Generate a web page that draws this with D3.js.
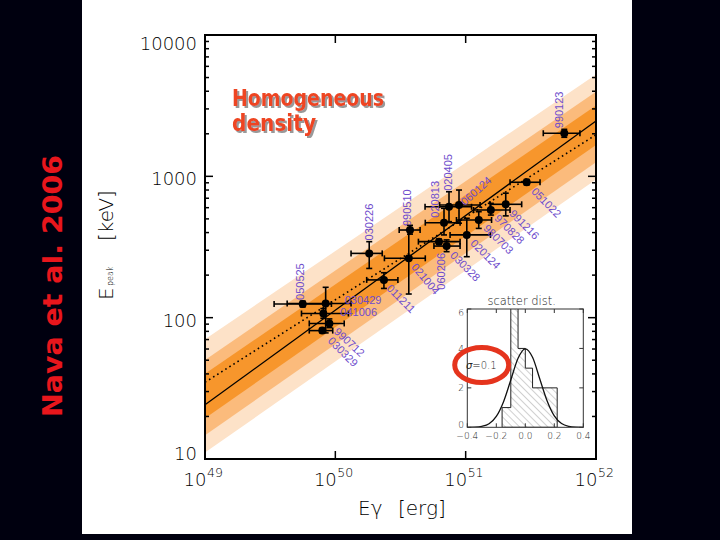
<!DOCTYPE html>
<html><head><meta charset="utf-8">
<script src="https://cdn.jsdelivr.net/npm/d3@7"></script>
<style>html,body{margin:0;padding:0;background:#00000f;}svg{display:block}</style>
</head><body>
<svg id="c" width="720" height="540"></svg>
<script>
// ---------- data ----------
const grbNames  = ["050525","030429","041006","990712","030329","030226","011211","990510","021004","060206","030328","020813","020405","060124","020124","980703","970828","991216","051022","990123"];
const eGamma    = [5.62e49,8.43e49,8.09e49,9.0e49,7.94e49,1.82e50,2.36e50,3.74e50,3.66e50,6.24e50,7.14e50,6.82e50,7.45e50,8.89e50,1.02e51,1.26e51,1.56e51,2.03e51,2.94e51,5.71e51];
const eGammaLo  = [3.39e49,4.27e49,5.5e49,6.31e49,6.31e49,1.32e50,1.74e50,3.09e50,2.38e50,4.34e50,5.71e50,4.9e50,4.88e50,6.31e50,7.59e50,8.5e50,1.15e51,1.54e51,2.19e51,3.94e51];
const eGammaHi  = [9.33e49,1.32e50,1.26e50,1.17e50,9.55e49,2.29e50,3.02e50,4.47e50,4.9e50,9.06e50,9.06e50,9.06e50,1.11e51,1.29e51,1.55e51,1.58e51,2.19e51,2.69e51,3.72e51,7.53e51];
const ePeak     = [125,126,107,91,81,285,185,417,263,345,321,470,609,627,385,491,578,634,908,2018];
const ePeakLo   = [119,78,99,85,78,223,161,390,147,330,293,385,478,466,270,428,532,525,870,1890];
const ePeakHi   = [131,164,116,98,84,345,208,450,417,360,355,594,778,800,505,562,644,760,950,2150];

const yTickValues = [10,100,1000,10000];
const yTickLabels = ["10","100","1000","10000"];
const xTickValues = [1e49,1e50,1e51,1e52];
const xTickExps   = ["49","50","51","52"];

const lineE     = [1e49,1e52];
const fitEp     = [24.2,2466];
const dottedEp  = [34.9,1968];
const band3Lo   = [11.1,951],  band3Hi = [70.3,5248];
const band2Lo   = [14.7,1259], band2Hi = [50.2,3972];
const band1Lo   = [19.4,1663], band1Hi = [40.1,3170];

const histEdges  = [-0.16,-0.10,-0.05,0.00,0.05,0.22];
const histCounts = [1,7,4,3,2];
const gaussX = [-0.40,-0.35,-0.30,-0.25,-0.20,-0.15,-0.10,-0.05,0.00,0.05,0.10,0.15,0.20,0.25,0.30,0.35,0.40];
const gaussY = [0.00,0.01,0.05,0.18,0.55,1.30,2.40,3.50,3.98,3.55,2.45,1.35,0.58,0.19,0.05,0.01,0.00];
const insetXTicks = [-0.4,-0.2,0.0,0.2,0.4];
const insetXTickLabels = ["\u22120.4","\u22120.2","0.0","0.2","0.4"];
const insetYTicks = [0,2,4,6];

// label placement (pixel offsets from the point, rotation)
const labelLayout = {
 "050525":[1,-4,-90],"030429":[19,1,0],"041006":[17,2,0],"990712":[4,9,43],"030329":[5,11,45],
 "030226":[4,-13,-90],"011211":[2,9,45],"990510":[1.5,-4,-90],"021004":[2,9,50],"060206":[6,48,-90],
 "030328":[3,10,45],"020813":[-5,-5,-90],"020405":[3,-16,-90],"060124":[6,1,-42],"020124":[3,9,45],
 "980703":[4,9,45],"970828":[3,9,45],"991216":[3,10,45],"051022":[4,10,45],"990123":[-1,-5,-90]
};

// ---------- drawing ----------
const svg = d3.select("#c");
svg.append("rect").attr("x",0).attr("y",0).attr("width",720).attr("height",540).attr("fill","#00000f");
svg.append("rect").attr("x",82).attr("y",0).attr("width",550).attr("height",534).attr("fill","#ffffff");

// side caption
svg.append("text").attr("transform","translate(62,417) rotate(-90)")
  .attr("font-family","DejaVu Sans").attr("font-weight","bold").attr("font-size",26)
  .attr("textLength",262).attr("lengthAdjust","spacingAndGlyphs")
  .attr("fill","#e8161c").text("Nava et al. 2006");

const L=205,R=596,T=35,B=459;
const x = d3.scaleLog().domain([1e49,1e52]).range([L,R]);
const y = d3.scaleLog().domain([10,10000]).range([B,T]);

const defs = svg.append("defs");
defs.append("clipPath").attr("id","plotclip").append("rect").attr("x",L).attr("y",T).attr("width",R-L).attr("height",B-T);
const shadow = defs.append("filter").attr("id","shadow").attr("x","-10%").attr("y","-20%").attr("width","130%").attr("height","150%");
shadow.append("feDropShadow").attr("dx",2).attr("dy",2).attr("stdDeviation",0.4).attr("flood-color","#999").attr("flood-opacity",1);

const plot = svg.append("g").attr("clip-path","url(#plotclip)");
const bandArea = (lo,hi)=>d3.area().x((d,i)=>x(lineE[i])).y0((d,i)=>y(lo[i])).y1((d,i)=>y(hi[i]))(lineE);
plot.append("path").attr("d",bandArea(band3Lo,band3Hi)).attr("fill","#fde2c8");
plot.append("path").attr("d",bandArea(band2Lo,band2Hi)).attr("fill","#fbbb7c");
plot.append("path").attr("d",bandArea(band1Lo,band1Hi)).attr("fill","#f7962c");

const lineGen = eps => d3.line().x((d,i)=>x(lineE[i])).y((d,i)=>y(eps[i]))(lineE);
plot.append("path").attr("d",lineGen(dottedEp)).attr("fill","none").attr("stroke","#000")
  .attr("stroke-width",1.6).attr("stroke-dasharray","1.6,3.2");
plot.append("path").attr("d",lineGen(fitEp)).attr("fill","none").attr("stroke","#000").attr("stroke-width",1.3);

// error bars and points
const pts = svg.append("g");
grbNames.forEach((n,i)=>{
  const px=x(eGamma[i]), py=y(ePeak[i]);
  const g=pts.append("g").attr("stroke","#000").attr("stroke-width",1.6);
  g.append("line").attr("x1",x(eGammaLo[i])).attr("x2",x(eGammaHi[i])).attr("y1",py).attr("y2",py);
  g.append("line").attr("x1",x(eGammaLo[i])).attr("x2",x(eGammaLo[i])).attr("y1",py-3).attr("y2",py+3);
  g.append("line").attr("x1",x(eGammaHi[i])).attr("x2",x(eGammaHi[i])).attr("y1",py-3).attr("y2",py+3);
  g.append("line").attr("x1",px).attr("x2",px).attr("y1",y(ePeakLo[i])).attr("y2",y(ePeakHi[i]));
  g.append("line").attr("x1",px-3).attr("x2",px+3).attr("y1",y(ePeakLo[i])).attr("y2",y(ePeakLo[i]));
  g.append("line").attr("x1",px-3).attr("x2",px+3).attr("y1",y(ePeakHi[i])).attr("y2",y(ePeakHi[i]));
  pts.append("circle").attr("cx",px).attr("cy",py).attr("r",4).attr("fill","#000");
});
// labels
const labs = svg.append("g").attr("font-family","Liberation Sans").attr("font-size",11).attr("fill","#6e4ccc");
grbNames.forEach((n,i)=>{
  const lay = labelLayout[n];
  labs.append("text").attr("transform",`translate(${x(eGamma[i])+lay[0]},${y(ePeak[i])+lay[1]}) rotate(${lay[2]})`).text(n);
});

// frame and ticks
svg.append("rect").attr("x",L).attr("y",T).attr("width",R-L).attr("height",B-T)
  .attr("fill","none").attr("stroke","#000").attr("stroke-width",2);
const tk = svg.append("g").attr("stroke","#000").attr("stroke-width",1.5);
[10,100,1000].forEach(d=>{
  for(let m=1;m<10;m++){
    const v=d*m; if(v<=10||v>=10000) continue;
    const len = m===1?8:4, yy=y(v);
    tk.append("line").attr("x1",L).attr("x2",L+len).attr("y1",yy).attr("y2",yy);
    tk.append("line").attr("x1",R).attr("x2",R-len).attr("y1",yy).attr("y2",yy);
  }
});
[1e50,1e51].forEach(v=>{
  tk.append("line").attr("x1",x(v)).attr("x2",x(v)).attr("y1",B).attr("y2",B-8);
  tk.append("line").attr("x1",x(v)).attr("x2",x(v)).attr("y1",T).attr("y2",T+8);
});
// tick labels
const tl = svg.append("g").attr("font-family","DejaVu Sans").attr("font-weight",200).attr("fill","#000");
yTickValues.forEach((v,i)=>{
  const b = Math.max(49.5, Math.min(459.5, y(v)+9));
  tl.append("text").attr("x",197).attr("y",b).attr("text-anchor","end").attr("font-size",18).text(yTickLabels[i]);
});
xTickValues.forEach((v,i)=>{
  tl.append("text").attr("x",x(v)+1.5).attr("y",486).attr("text-anchor","end").attr("font-size",18).text("10");
  tl.append("text").attr("x",x(v)+2).attr("y",477).attr("font-size",12.5).text(xTickExps[i]);
});
// axis titles
tl.append("text").attr("x",358).attr("y",515).attr("font-size",20).text("E\u03b3");
tl.append("text").attr("x",398).attr("y",515).attr("font-size",20).text("[erg]");
const yt = tl.append("g").attr("transform","translate(113,300) rotate(-90)");
yt.append("text").attr("x",0).attr("y",0).attr("font-size",20).text("E");
yt.append("text").attr("x",14).attr("y",0).attr("font-size",8).text("peak");
yt.append("text").attr("x",59).attr("y",0).attr("font-size",20).text("[keV]");

// Homogeneous density
const hd = svg.append("g").attr("font-family","DejaVu Sans").attr("font-weight","bold").attr("font-size",23)
  .attr("filter","url(#shadow)");
hd.append("text").attr("x",232).attr("y",106).attr("textLength",152).attr("lengthAdjust","spacingAndGlyphs").attr("fill","#ee4420").text("Homogeneous");
hd.append("text").attr("x",232).attr("y",131).attr("textLength",84).attr("lengthAdjust","spacingAndGlyphs").attr("fill","#ee4420").text("density");

// ---------- inset ----------
const iL=467.3,iR=583.3,iT=309,iB=427.3;
const ix = d3.scaleLinear().domain([-0.4,0.4]).range([iL,iR]);
const iy = d3.scaleLinear().domain([0,6]).range([iB,iT]);
svg.append("rect").attr("x",iL).attr("y",iT).attr("width",iR-iL).attr("height",iB-iT).attr("fill","#fff");
defs.append("clipPath").attr("id","insetclip").append("rect").attr("x",iL).attr("y",iT).attr("width",iR-iL).attr("height",iB-iT);
const pat = defs.append("pattern").attr("id","hatch").attr("patternUnits","userSpaceOnUse").attr("width",5).attr("height",5)
  .attr("patternTransform","rotate(-45)");
pat.append("line").attr("x1",0).attr("y1",0).attr("x2",0).attr("y2",5).attr("stroke","#777").attr("stroke-width",0.7);
const ins = svg.append("g").attr("clip-path","url(#insetclip)");
let hp = `M${ix(histEdges[0])},${iy(0)}`;
histCounts.forEach((c,i)=>{ hp += `L${ix(histEdges[i])},${iy(c)}L${ix(histEdges[i+1])},${iy(c)}`; });
hp += `L${ix(histEdges[histEdges.length-1])},${iy(0)}Z`;
ins.append("path").attr("d",hp).attr("fill","url(#hatch)").attr("stroke","#222").attr("stroke-width",1);
ins.append("path").attr("d",d3.line().curve(d3.curveMonotoneX).x((d,i)=>ix(gaussX[i])).y((d,i)=>iy(gaussY[i]))(gaussX))
  .attr("fill","none").attr("stroke","#111").attr("stroke-width",1.3);
svg.append("rect").attr("x",iL).attr("y",iT).attr("width",iR-iL).attr("height",iB-iT).attr("fill","none").attr("stroke","#333").attr("stroke-width",1);
const it = svg.append("g").attr("stroke","#333").attr("stroke-width",1);
insetXTicks.forEach(v=>{ it.append("line").attr("x1",ix(v)).attr("x2",ix(v)).attr("y1",iB).attr("y2",iB-4); it.append("line").attr("x1",ix(v)).attr("x2",ix(v)).attr("y1",iT).attr("y2",iT+4);});
insetYTicks.forEach(v=>{ it.append("line").attr("x1",iL).attr("x2",iL+4).attr("y1",iy(v)).attr("y2",iy(v)); it.append("line").attr("x1",iR).attr("x2",iR-4).attr("y1",iy(v)).attr("y2",iy(v));});
const itl = svg.append("g").attr("font-family","DejaVu Sans").attr("font-weight",200).attr("fill","#222").attr("font-size",9);
insetXTicks.forEach((v,i)=>itl.append("text").attr("x",ix(v)).attr("y",439).attr("text-anchor","middle").text(insetXTickLabels[i]));
insetYTicks.forEach(v=>itl.append("text").attr("x",464).attr("y",Math.max(316,Math.min(427.5,iy(v)+3.5))).attr("text-anchor","end").text(v));
itl.append("text").attr("x",521.7).attr("y",305).attr("text-anchor","middle").attr("font-size",11.5).text("scatter dist.");
const sg = itl.append("text").attr("x",466).attr("y",368.5).attr("font-size",10);
sg.append("tspan").attr("font-style","italic").text("\u03c3");
sg.append("tspan").text("=0.1");
svg.append("ellipse").attr("cx",481.7).attr("cy",365).attr("rx",27).attr("ry",17.5)
  .attr("fill","none").attr("stroke","#e5341d").attr("stroke-width",5);
</script>
</body></html>
